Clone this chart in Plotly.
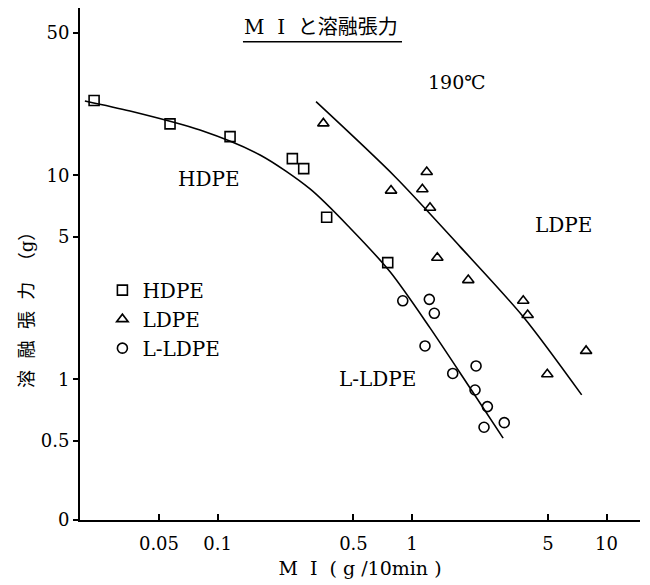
import numpy as np
import plotly.graph_objects as go

# ---- data ----
hdpe_mi = [0.0232, 0.0570, 0.116, 0.2425, 0.2774, 0.364, 0.750]
hdpe_mt = [23.3, 17.9, 15.5, 12.1, 10.8, 6.24, 3.74]

ldpe_mi = [0.350, 1.19, 0.780, 1.13, 1.237, 1.349, 1.946, 3.73, 3.93, 7.85, 4.96]
ldpe_mt = [18.0, 10.4, 8.43, 8.56, 6.95, 3.95, 3.07, 2.43, 2.07, 1.38, 1.06]

lldpe_mi = [0.896, 1.227, 1.302, 1.166, 1.619, 2.134, 2.108, 2.44, 2.345, 2.98]
lldpe_mt = [2.43, 2.47, 2.11, 1.46, 1.07, 1.165, 0.888, 0.736, 0.583, 0.614]

# fitted curves
curve1_mi = [0.0208, 0.0355, 0.0813, 0.1655, 0.299, 0.480, 0.771, 1.237, 1.988, 2.94]
curve1_mt = [23.2, 20.7, 16.7, 12.6, 8.59, 5.53, 3.37, 1.79, 0.908, 0.516]

curve2_mi = [0.321, 0.818, 1.766, 3.73, 7.45]
curve2_mt = [23.0, 9.86, 4.48, 2.03, 0.84]

x_tickvals = [0.05, 0.1, 0.5, 1, 5, 10]
x_ticktext = ["0.05", "0.1", "0.5", "1", "5", "10"]
y_tickvals = [10 ** -0.689, 0.5, 1, 5, 10, 50]
y_ticktext = ["0", "0.5", "1", "5", "10", "50"]

SERIF = "DejaVu Serif, Noto Sans CJK JP, serif"

fig = go.Figure()

fig.add_trace(go.Scatter(x=curve1_mi, y=curve1_mt, mode="lines",
                         line=dict(color="black", width=1.6, shape="spline", smoothing=0.8),
                         showlegend=False, hoverinfo="skip"))
fig.add_trace(go.Scatter(x=curve2_mi, y=curve2_mt, mode="lines",
                         line=dict(color="black", width=1.6, shape="spline", smoothing=0.8),
                         showlegend=False, hoverinfo="skip"))

fig.add_trace(go.Scatter(x=hdpe_mi, y=hdpe_mt, mode="markers", name="HDPE",
                         marker=dict(symbol="square-open", size=10, color="black",
                                     line=dict(width=1.6, color="black"))))
fig.add_trace(go.Scatter(x=ldpe_mi, y=ldpe_mt, mode="markers", name="LDPE",
                         marker=dict(symbol="triangle-up-open", size=10, color="black",
                                     line=dict(width=1.6, color="black"))))
fig.add_trace(go.Scatter(x=lldpe_mi, y=lldpe_mt, mode="markers", name="L-LDPE",
                         marker=dict(symbol="circle-open", size=10, color="black",
                                     line=dict(width=1.6, color="black"))))

fig.update_layout(
    width=650, height=585,
    margin=dict(l=80, r=10, t=8, b=65),
    paper_bgcolor="white", plot_bgcolor="white",
    font=dict(family=SERIF, size=18, color="black"),
    showlegend=True,
    legend=dict(x=0.04, y=0.487, xanchor="left", yanchor="top",
                bgcolor="rgba(0,0,0,0)", font=dict(family=SERIF, size=20),
                tracegroupgap=0, itemsizing="trace"),
    xaxis=dict(type="log", range=[-1.707, 1.172], showgrid=False, zeroline=False,
               showline=True, linecolor="black", linewidth=2,
               tickvals=x_tickvals, ticktext=x_ticktext, ticks="inside", ticklen=6,
               tickwidth=1.5, tickcolor="black", ticklabelstandoff=6,
               tickfont=dict(family=SERIF, size=18),
               title=dict(text="M  I  ( g /10min )", font=dict(family=SERIF, size=19), standoff=9)),
    yaxis=dict(type="log", range=[-0.689, 1.821], showgrid=False, zeroline=False,
               showline=True, linecolor="black", linewidth=2,
               tickvals=y_tickvals, ticktext=y_ticktext, ticks="outside", ticklen=5,
               tickwidth=1.5, tickcolor="black", tickfont=dict(family=SERIF, size=18)),
)

ann = [
    dict(text="M  I  と溶融張力", x=0.430, y=0.963, xref="paper", yref="paper",
         xanchor="center", yanchor="middle", showarrow=False, font=dict(family=SERIF, size=20)),
    dict(text="190℃", x=0.673, y=0.855, xref="paper", yref="paper",
         xanchor="center", yanchor="middle", showarrow=False, font=dict(family=SERIF, size=19)),
    dict(text="HDPE", x=0.2295, y=0.666, xref="paper", yref="paper",
         xanchor="center", yanchor="middle", showarrow=False, font=dict(family=SERIF, size=20)),
    dict(text="LDPE", x=0.8625, y=0.576, xref="paper", yref="paper",
         xanchor="center", yanchor="middle", showarrow=False, font=dict(family=SERIF, size=20)),
    dict(text="L-LDPE", x=0.532, y=0.275, xref="paper", yref="paper",
         xanchor="center", yanchor="middle", showarrow=False, font=dict(family=SERIF, size=20)),
    dict(text="溶  融  張  力  （g）", x=-0.0946, y=0.418, xref="paper", yref="paper",
         xanchor="center", yanchor="middle", textangle=-90, showarrow=False,
         font=dict(family=SERIF, size=18)),
]
fig.update_layout(annotations=ann)
fig.add_shape(type="line", xref="paper", yref="paper", x0=0.291, x1=0.575,
              y0=0.934, y1=0.934, line=dict(color="black", width=1.5))

fig.write_html("out.html")
